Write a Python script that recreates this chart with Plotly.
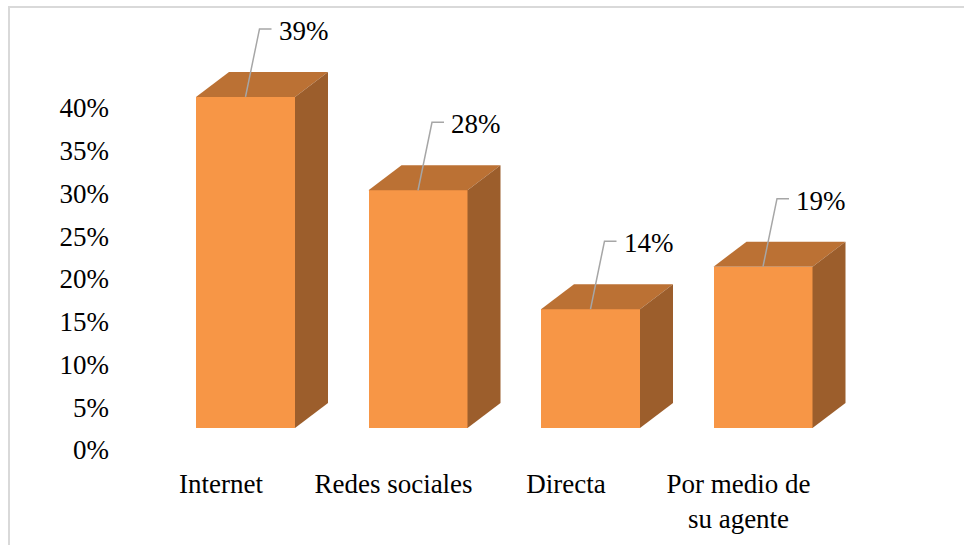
import plotly.graph_objects as go

# Chart data
categories = ["Internet", "Redes sociales", "Directa", "Por medio de<br>su agente"]
values = [0.39, 0.28, 0.14, 0.19]
tick_values = [0, 0.05, 0.10, 0.15, 0.20, 0.25, 0.30, 0.35, 0.40]
tick_labels = ["0%", "5%", "10%", "15%", "20%", "25%", "30%", "35%", "40%"]

# Canvas / plot area (pixels)
W, H = 964, 545
PL, PR, PT, PB = 140, 900, 15, 465

# Horizontal scale: category centres every 172.5 px, first label at 221 px
X_STEP = 172.5
x0_px = 221
x_range = [-(x0_px - PL) / X_STEP, -(x0_px - PL) / X_STEP + (PR - PL) / X_STEP]

# Visible value axis: 0% at 450 px, 40% at 108 px
k1 = (450 - 108) / 0.40
y1_range = [-(PB - 450) / k1, -(PB - 450) / k1 + (PB - PT) / k1]

# Bar (front face) axis: base at 428 px
k2 = 849.0
y2_range = [-(PB - 428) / k2, -(PB - 428) / k2 + (PB - PT) / k2]

# 3D look
FRONT = "#F79646"
TOP = "#BB7134"
SIDE = "#9C5E2C"
BAR_W = 99 / X_STEP
SHIFT = 24.5 / X_STEP          # front faces sit right of the label centre
DX = 33 / X_STEP               # depth offset, horizontal
DY = 25 / k2                   # depth offset, vertical

SERIF = "Times New Roman, Liberation Serif, DejaVu Serif, serif"
font = dict(family=SERIF, size=27, color="#000000")

fig = go.Figure()

centers = [i + SHIFT for i in range(len(values))]

# value axis carrier (keeps the percentage scale drawn)
fig.add_trace(go.Scatter(
    x=centers, y=values, yaxis="y", mode="none",
    hoverinfo="skip", showlegend=False,
))

fig.add_trace(go.Bar(
    x=centers, y=values, width=BAR_W, yaxis="y2",
    marker=dict(color=FRONT, line=dict(width=0)),
    hoverinfo="skip", showlegend=False,
))

for c, v in zip(centers, values):
    xl, xr = c - BAR_W / 2, c + BAR_W / 2
    # top face
    fig.add_trace(go.Scatter(
        x=[xl, xr, xr + DX, xl + DX, xl], y=[v, v, v + DY, v + DY, v],
        yaxis="y2", fill="toself", fillcolor=TOP, mode="lines",
        line=dict(width=0, color=TOP), hoverinfo="skip", showlegend=False,
    ))
    # side face
    fig.add_trace(go.Scatter(
        x=[xr, xr + DX, xr + DX, xr, xr], y=[0, DY, v + DY, v, 0],
        yaxis="y2", fill="toself", fillcolor=SIDE, mode="lines",
        line=dict(width=0, color=SIDE), hoverinfo="skip", showlegend=False,
    ))

# leader lines and value labels
ELBOW_X = 14 / X_STEP
END_X = 26 / X_STEP
LABEL_X = 31 / X_STEP
RISE = 68 / k2
for c, v in zip(centers, values):
    fig.add_trace(go.Scatter(
        x=[c, c + ELBOW_X, c + END_X], y=[v, v + RISE, v + RISE],
        yaxis="y2", mode="lines", line=dict(color="#A6A6A6", width=1.5),
        hoverinfo="skip", showlegend=False, cliponaxis=False,
    ))
    fig.add_annotation(
        x=c + LABEL_X, y=v + RISE - 2 / k2, xref="x", yref="y2",
        text=f"{round(v * 100)}%", showarrow=False, xanchor="left",
        yanchor="middle", font=font,
    )

# chart border
fig.add_shape(
    type="rect", xref="paper", yref="paper",
    x0=(9 - PL) / (PR - PL), x1=(975 - PL) / (PR - PL),
    y0=(PB - 560) / (PB - PT), y1=(PB - 7) / (PB - PT),
    line=dict(color="#D9D9D9", width=2), fillcolor="rgba(0,0,0,0)", layer="below",
)

fig.update_layout(
    width=W, height=H,
    margin=dict(l=PL, r=W - PR, t=PT, b=H - PB, autoexpand=False),
    paper_bgcolor="white", plot_bgcolor="white",
    font=font,
    bargap=0,
    xaxis=dict(
        range=x_range, tickvals=list(range(len(categories))), ticktext=categories,
        showgrid=False, zeroline=False, showline=False, ticks="",
        tickfont=font, ticklabelstandoff=0,
    ),
    yaxis=dict(
        range=y1_range, tickvals=tick_values, ticktext=tick_labels,
        showgrid=False, zeroline=False, showline=False, ticks="",
        tickfont=font, ticklabelstandoff=30,
    ),
    yaxis2=dict(
        range=y2_range, overlaying="y", visible=False,
    ),
)

fig.write_html("out.html")
